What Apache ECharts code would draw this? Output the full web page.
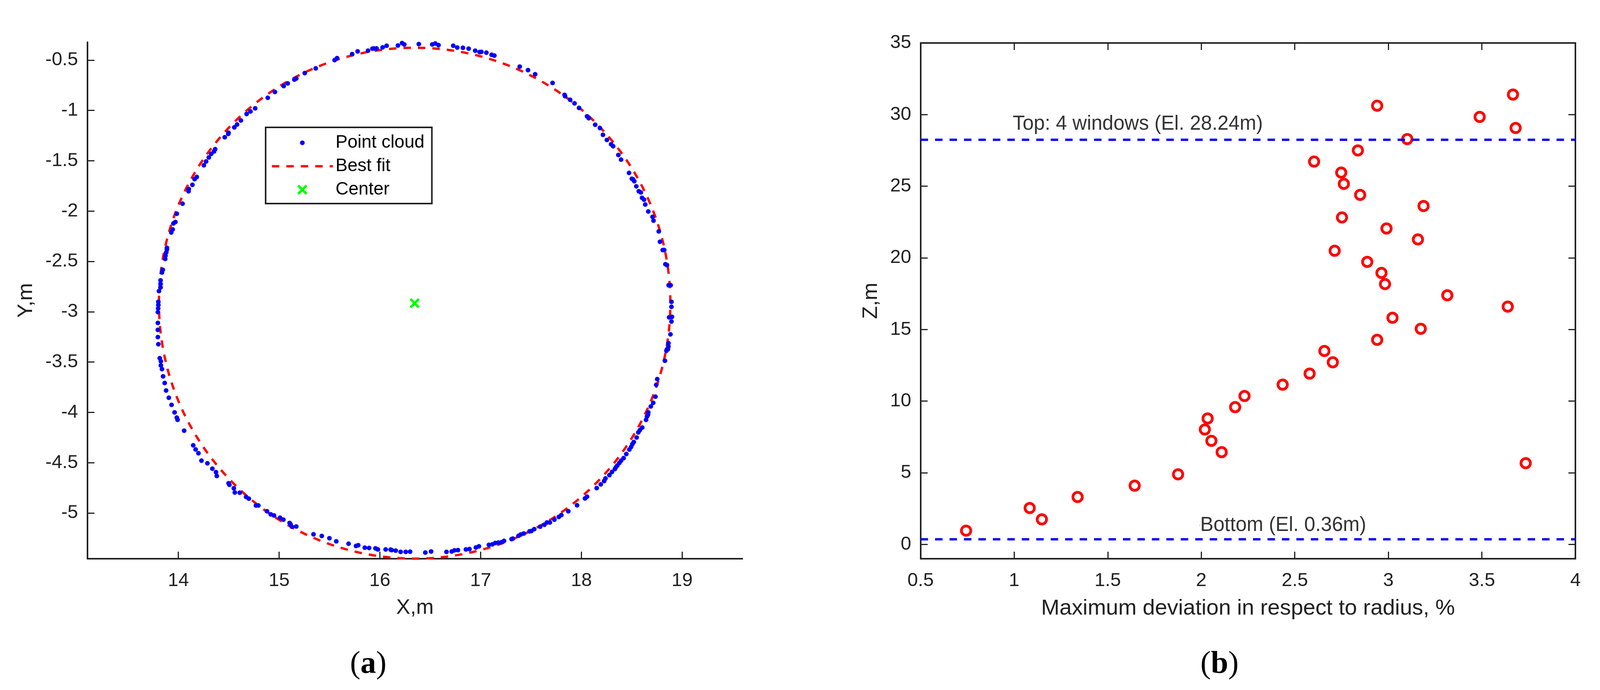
<!DOCTYPE html>
<html>
<head>
<meta charset="utf-8">
<title>Point cloud and deviation</title>
<script src="https://cdn.jsdelivr.net/npm/echarts@6/dist/echarts.min.js"></script>
<style>
html, body { margin: 0; padding: 0; background: #fff; }
#box { width: 4103px; height: 1766px; }
</style>
</head>
<body>
<div id="box"></div>
<script>
// panel (a): slice of the point cloud
var cloudX = [13.801,13.796,13.796,13.796,13.796,13.799,13.801,13.801,13.807,13.823,13.823,13.823,13.837,13.845,13.869,13.872,13.880,13.886,13.886,13.929,13.943,13.951,13.970,13.984,14.041,14.101,14.103,14.139,14.161,14.182,14.253,14.275,14.302,14.326,14.354,14.365,14.460,14.495,14.498,14.555,14.582,14.620,14.677,14.715,14.762,14.887,14.958,15.045,15.085,15.151,15.170,15.254,15.363,15.551,15.575,15.725,15.779,15.882,15.926,15.940,15.967,16.027,16.067,16.179,16.220,16.242,16.386,
	16.520,16.550,16.582,16.728,16.768,16.824,16.881,16.946,16.990,17.007,17.057,17.109,17.136,17.388,17.470,17.541,17.714,17.833,17.838,17.888,17.932,17.977,18.056,18.073,18.137,18.184,18.214,18.253,18.295,18.315,18.367,18.394,18.473,18.501,18.513,18.525,18.545,18.570,18.590,18.602,18.622,18.634,18.664,18.706,18.716,18.768,18.780,18.807,18.822,18.834,18.849,18.866,18.886,18.894,18.894,18.871,18.899,18.894,18.884,18.864,18.864,18.849,
	18.859,18.844,18.829,18.753,18.743,18.735,18.713,18.689,18.664,18.661,18.651,18.642,18.604,18.580,18.565,18.548,18.520,18.506,18.493,18.476,18.446,18.419,18.394,18.377,18.357,18.342,18.332,18.303,18.278,18.239,18.226,18.192,18.152,18.056,18.036,17.957,17.870,17.801,17.776,17.732,17.687,17.658,17.633,17.591,17.532,17.504,17.485,17.428,17.398,17.376,17.319,17.307,17.232,17.208,17.176,17.146,17.116,17.082,16.983,16.953,16.889,16.854,16.775,16.740,16.713,16.661,16.508,16.451,16.300,16.256,16.206,16.157,16.117,
	16.106,16.057,15.980,15.956,15.893,15.850,15.785,15.763,15.689,15.567,15.499,15.423,15.341,15.170,15.126,15.113,15.104,15.042,15.009,14.949,14.917,14.879,14.794,14.770,14.699,14.672,14.609,14.560,14.550,14.506,14.498,14.381,14.373,14.337,14.288,14.229,14.199,14.171,14.147,14.057,13.992,13.984,13.962,13.932,13.905,13.878,13.864,13.848,13.837,13.826,13.826,13.815];
var cloudY = [-3.323,-3.252,-3.180,-3.111,-3.004,-2.967,-2.933,-2.902,-2.795,-2.759,-2.724,-2.688,-2.610,-2.583,-2.476,-2.443,-2.410,-2.381,-2.365,-2.213,-2.182,-2.122,-2.109,-2.026,-1.926,-1.803,-1.781,-1.739,-1.683,-1.661,-1.545,-1.507,-1.467,-1.431,-1.407,-1.385,-1.266,-1.233,-1.222,-1.168,-1.140,-1.099,-1.035,-1.010,-0.979,-0.874,-0.816,-0.758,-0.732,-0.694,-0.683,-0.629,-0.582,-0.500,-0.480,-0.440,-0.413,-0.406,-0.386,-0.384,-0.384,-0.373,-0.357,-0.355,-0.331,-0.344,-0.340,
	-0.344,-0.335,-0.351,-0.357,-0.375,-0.377,-0.386,-0.406,-0.420,-0.418,-0.426,-0.447,-0.455,-0.565,-0.600,-0.640,-0.727,-0.845,-0.859,-0.894,-0.930,-0.975,-1.059,-1.077,-1.142,-1.175,-1.242,-1.293,-1.336,-1.356,-1.443,-1.489,-1.621,-1.679,-1.685,-1.703,-1.754,-1.803,-1.815,-1.868,-1.886,-1.935,-2.004,-2.057,-2.095,-2.202,-2.305,-2.387,-2.387,-2.528,-2.537,-2.737,-2.737,-2.902,-2.951,-3.056,-3.051,-3.098,-3.225,-3.312,-3.345,-3.374,
	-3.372,-3.388,-3.487,-3.669,-3.726,-3.844,-3.905,-3.941,-4.000,-4.024,-4.041,-4.074,-4.151,-4.177,-4.199,-4.250,-4.294,-4.316,-4.344,-4.370,-4.414,-4.454,-4.480,-4.502,-4.528,-4.546,-4.563,-4.592,-4.623,-4.656,-4.682,-4.715,-4.752,-4.838,-4.855,-4.923,-4.982,-5.020,-5.039,-5.066,-5.094,-5.094,-5.116,-5.136,-5.160,-5.178,-5.182,-5.204,-5.213,-5.226,-5.254,-5.259,-5.276,-5.290,-5.294,-5.298,-5.311,-5.316,-5.331,-5.342,-5.358,-5.362,-5.369,-5.371,-5.382,-5.386,-5.382,-5.393,-5.384,-5.386,-5.386,-5.373,-5.369,
	-5.364,-5.362,-5.362,-5.351,-5.347,-5.344,-5.320,-5.327,-5.305,-5.281,-5.250,-5.228,-5.211,-5.134,-5.136,-5.112,-5.099,-5.066,-5.046,-5.024,-5.013,-4.982,-4.925,-4.925,-4.857,-4.840,-4.798,-4.796,-4.754,-4.719,-4.704,-4.632,-4.594,-4.559,-4.506,-4.480,-4.406,-4.368,-4.327,-4.182,-4.074,-4.052,-4.000,-3.925,-3.855,-3.783,-3.708,-3.642,-3.570,-3.533,-3.493,-3.462];
var fitCircle = [16.345, -2.915, 2.538]; // center x, center y, radius
var centerPoint = [16.345, -2.915];
var xTicksA = [14, 15, 16, 17, 18, 19];
var yTicksA = [-0.5, -1, -1.5, -2, -2.5, -3, -3.5, -4, -4.5, -5];

// panel (b): deviation against elevation
var deviation = [0.743,1.148,1.083,1.339,1.644,1.876,3.734,2.109,2.054,2.019,2.034,2.181,2.231,2.435,2.579,2.703,2.658,2.94,3.173,3.022,3.638,3.315,2.982,2.963,2.887,2.713,3.158,2.99,2.752,3.188,2.849,2.762,2.748,2.603,2.837,3.101,3.68,3.488,2.94,3.666];
var elevation = [0.96,1.75,2.54,3.31,4.10,4.89,5.67,6.44,7.23,8.02,8.79,9.58,10.36,11.15,11.92,12.71,13.50,14.28,15.05,15.82,16.60,17.39,18.17,18.95,19.72,20.50,21.29,22.05,22.82,23.62,24.40,25.17,25.95,26.72,27.50,28.29,29.07,29.84,30.62,31.40];
var topLevel = 28.24;
var bottomLevel = 0.36;
var xTicksB = [0.5, 1, 1.5, 2, 2.5, 3, 3.5, 4];
var yTicksB = [0, 5, 10, 15, 20, 25, 30, 35];
var noteText = ["Top: 4 windows (El. 28.24m)", "Bottom (El. 0.36m)"];
var noteX = [0.992, 1.992];
var noteY = [29.33, 1.33];

var axisColor = "#212121";
var font = "Liberation Sans";
var crossPath = "path://M0 4.5L4.5 0L13 8.5L21.5 0L26 4.5L17.5 13L26 21.5L21.5 26L13 17.5L4.5 26L0 21.5L8.5 13Z";

function zip(a, b) {
	var out = [];
	for (var i = 0; i < a.length; i++) {
		out.push([a[i], b[i]]);
	}
	return out;
}

// shared look of all axes, MATLAB style with ticks pointing inwards
function makeAxis(grid, position, min, max, ticks, name, nameGap, nameSize, labels, margin) {
	return {
		type: "value",
		gridIndex: grid,
		position: position,
		min: min,
		max: max,
		name: name,
		nameLocation: "middle",
		nameGap: nameGap,
		nameTextStyle: { color: axisColor, fontFamily: font, fontSize: nameSize },
		splitLine: { show: false },
		axisLine: { show: true, onZero: false, lineStyle: { color: axisColor, width: 4 } },
		axisTick: { show: true, inside: true, length: 18, customValues: ticks, lineStyle: { color: axisColor, width: 3 } },
		axisLabel: {
			show: labels,
			customValues: ticks,
			margin: margin,
			color: axisColor,
			fontFamily: font,
			fontSize: 48.5
		}
	};
}

function panelTitle(letter, left) {
	return {
		text: "{p|(}{b|" + letter + "}{p|)}",
		left: left,
		top: 1661,
		padding: 0,
		textStyle: {
			fontWeight: "normal",
			rich: {
				p: { fontFamily: "Liberation Serif", fontSize: 80, fontWeight: "normal", color: "#000" },
				b: { fontFamily: "Liberation Serif", fontSize: 80, fontWeight: "bold", color: "#000" }
			}
		}
	};
}

var myChart = echarts.init(document.getElementById("box"));

var option = {
	backgroundColor: "#fff",
	animation: false,
	title: [panelTitle("a", 896), panelTitle("b", 3073)],
	legend: {
		left: 680,
		top: 326,
		orient: "vertical",
		selectedMode: false,
		itemWidth: 156,
		itemHeight: 28,
		itemGap: 9,
		padding: [14, 19, 10, 16],
		borderColor: axisColor,
		borderWidth: 4,
		itemStyle: { borderWidth: 0 },
		textStyle: { color: "#000", fontFamily: font, fontSize: 46, lineHeight: 46, padding: [5, 0, 0, 2] },
		data: [{
			name: "Point cloud",
			icon: "path://M0 0L0 0M28 28L28 28M8 14a6 6 0 1 0 12 0a6 6 0 1 0 -12 0Z",
			itemStyle: { color: "#0000ff" }
		}, {
			name: "Best fit",
			icon: "path://M0 0L0 0M156 28L156 28M0 11H19V17H0ZM37 11H56V17H37ZM74 11H93V17H74ZM111 11H130V17H111ZM148 11H156V17H148Z",
			itemStyle: { color: "#ff0000" }
		}, {
			name: "Center",
			icon: "path://M0 0L0 0M28 28L28 28M1 5.5L5.5 1L14 9.5L22.5 1L27 5.5L18.5 14L27 22.5L22.5 27L14 18.5L5.5 27L1 22.5L9.5 14Z",
			itemStyle: { color: "#00ff00" }
		}]
	},
	grid: [
		{ left: 223.8, top: 108, width: 1676.7, height: 1322 },
		{ left: 2356.8, top: 110, width: 1676.4, height: 1320 }
	],
	xAxis: [
		makeAxis(0, "bottom", 13.097, 19.598, xTicksA, "X,m", 99, 54, true, 32),
		makeAxis(1, "bottom", 0.5, 4, xTicksB, "Maximum deviation in respect to radius, %", 99, 56.4, true, 32),
		makeAxis(1, "top", 0.5, 4, xTicksB, "", 0, 10, false, 0)
	],
	yAxis: [
		makeAxis(0, "left", -5.454, -0.322, yTicksA, "Y,m", 130, 54, true, 24),
		makeAxis(1, "left", -1, 35, yTicksB, "Z,m", 100, 54, true, 24),
		makeAxis(1, "right", -1, 35, yTicksB, "", 0, 10, false, 0)
	],
	series: [{
		name: "Point cloud",
		type: "scatter",
		xAxisIndex: 0,
		yAxisIndex: 0,
		symbol: "circle",
		symbolSize: 12,
		itemStyle: { color: "#0000ff", opacity: 1 },
		data: zip(cloudX, cloudY)
	}, {
		name: "Best fit",
		type: "custom",
		xAxisIndex: 0,
		yAxisIndex: 0,
		itemStyle: { color: "#ff0000" },
		renderItem: function (params, api) {
			var c = api.coord([api.value(0), api.value(1)]);
			var s = api.size([api.value(2), api.value(2)]);
			return {
				type: "ellipse",
				shape: { cx: c[0], cy: c[1], rx: s[0], ry: s[1] },
				style: { fill: "none", stroke: "#ff0000", lineWidth: 6, lineDash: [19, 18] }
			};
		},
		data: [fitCircle]
	}, {
		name: "Center",
		type: "scatter",
		xAxisIndex: 0,
		yAxisIndex: 0,
		symbol: crossPath,
		symbolSize: 26,
		itemStyle: { color: "#00ff00", opacity: 1 },
		data: [centerPoint]
	}, {
		name: "Top level",
		type: "line",
		xAxisIndex: 1,
		yAxisIndex: 1,
		symbol: "none",
		lineStyle: { color: "#0000ff", width: 6, type: [19, 18] },
		data: [[0.5, topLevel], [4, topLevel]]
	}, {
		name: "Bottom level",
		type: "line",
		xAxisIndex: 1,
		yAxisIndex: 1,
		symbol: "none",
		lineStyle: { color: "#0000ff", width: 6, type: [19, 18] },
		data: [[0.5, bottomLevel], [4, bottomLevel]]
	}, {
		name: "Max deviation",
		type: "scatter",
		xAxisIndex: 1,
		yAxisIndex: 1,
		symbol: "circle",
		symbolSize: 24,
		itemStyle: { color: "none", borderColor: "#ff0000", borderWidth: 7, opacity: 1 },
		data: zip(deviation, elevation)
	}, {
		name: "Notes",
		type: "scatter",
		xAxisIndex: 1,
		yAxisIndex: 1,
		symbolSize: 0,
		label: {
			show: true,
			position: "right",
			distance: 0,
			color: "#000",
			fontFamily: font,
			fontSize: 51,
			formatter: function (p) {
				return noteText[p.dataIndex];
			}
		},
		data: zip(noteX, noteY)
	}]
};

myChart.clear();
myChart.setOption(option);
</script>
</body>
</html>
